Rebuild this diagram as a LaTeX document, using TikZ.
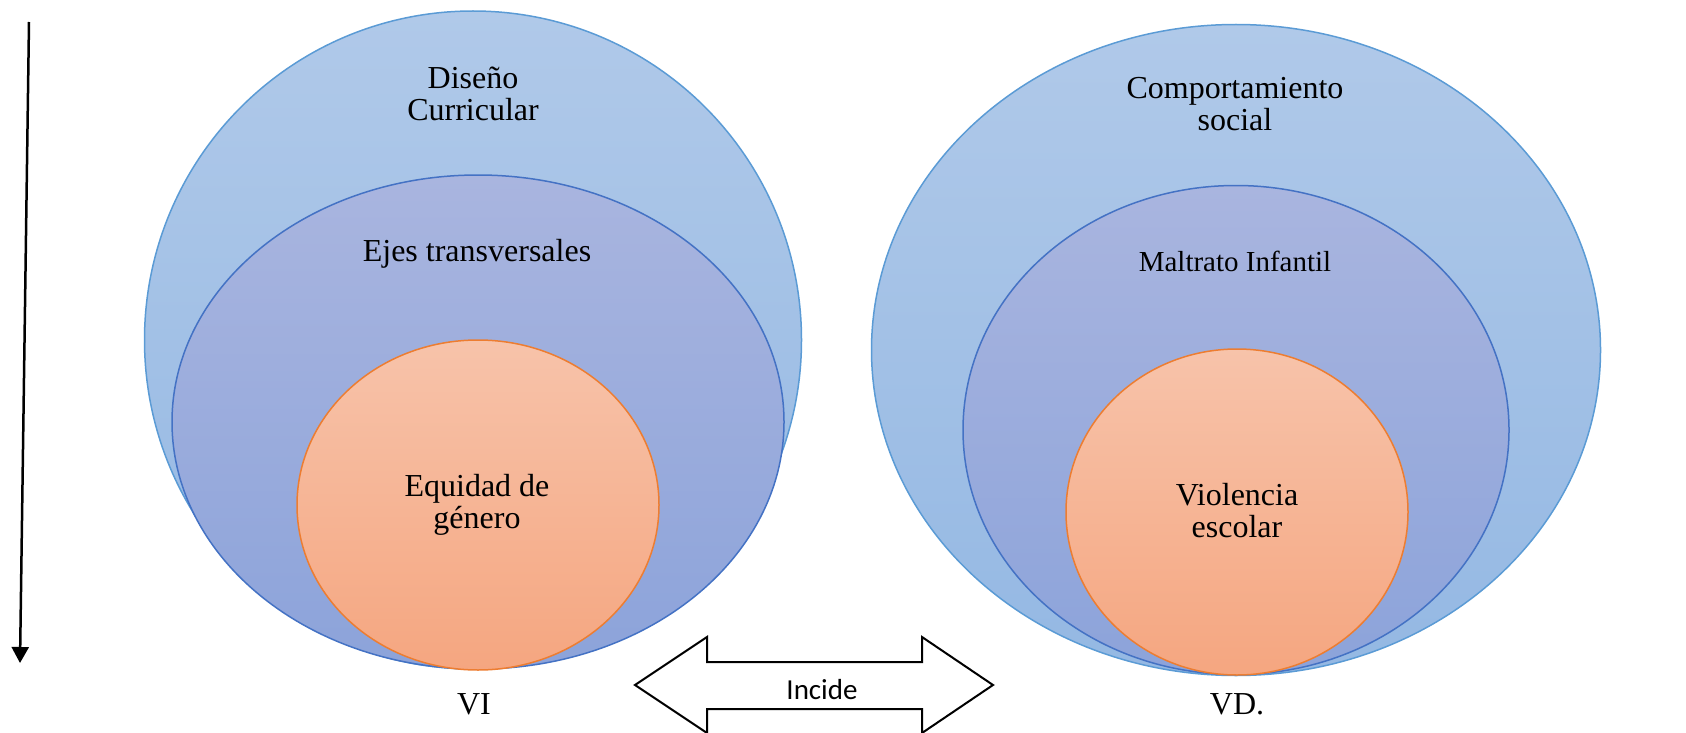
\documentclass[tikz,border=0pt]{standalone}
\usepackage{fontspec}
\setmainfont{Liberation Serif}
\newfontfamily\incidefont{Carlito}
\usetikzlibrary{shapes.geometric,arrows.meta}
\definecolor{outertop}{RGB}{176,201,233}
\definecolor{outerbot}{RGB}{148,184,227}
\definecolor{outerline}{RGB}{91,155,213}
\definecolor{midtop}{RGB}{169,181,223}
\definecolor{midbot}{RGB}{140,163,218}
\definecolor{midline}{RGB}{68,114,196}
\definecolor{innertop}{RGB}{247,195,170}
\definecolor{innerbot}{RGB}{245,166,128}
\definecolor{innerline}{RGB}{237,125,49}
\begin{document}
\begin{tikzpicture}[x=1pt,y=-1pt,
  outer/.style={ellipse, inner sep=0pt, draw=outerline, line width=1.5pt, top color=outertop, bottom color=outerbot},
  middle/.style={ellipse, inner sep=0pt, draw=midline, line width=1.5pt, top color=midtop, bottom color=midbot},
  inner/.style={ellipse, inner sep=0pt, draw=innerline, line width=1.5pt, top color=innertop, bottom color=innerbot},
  txt/.style={align=center, inner sep=0pt, font=\fontsize{32}{32}\selectfont}]
\useasboundingbox (0,0) rectangle (1686,733);
% izquierda
\node [outer, minimum width=657pt, minimum height=658pt] (diseno) at (473,340) {};
\node [middle, minimum width=612pt, minimum height=494pt] (ejes) at (478,422) {};
\node [inner, minimum width=362pt, minimum height=330pt] (equidad) at (478,505) {};
\node [txt] (disenotxt) at (473,94) {Diseño\\Curricular};
\node [txt] (ejestxt) at (477,254) {Ejes transversales};
\node [txt] (equidadtxt) at (477,505) {Equidad de\\género};
\node [txt] (vi) at (474,704) {VI};
% derecha
\node [outer, minimum width=729pt, minimum height=651pt] (comport) at (1236,350) {};
\node [middle, minimum width=546pt, minimum height=489pt] (maltrato) at (1236,430) {};
\node [inner, minimum width=342pt, minimum height=326pt] (violencia) at (1237,512) {};
\node [txt] (comporttxt) at (1235,104) {Comportamiento\\social};
\node [txt, font=\fontsize{29}{29}\selectfont] (maltratotxt) at (1235,261) {Maltrato Infantil};
\node [txt] (violenciatxt) at (1237,511) {Violencia\\escolar};
\node [txt] (vd) at (1237,704) {VD.};
% flecha vertical
\coordinate (arriba) at (29,22);
\coordinate (abajo) at (20,663);
\draw [line width=2.5pt, -{Triangle[width=17pt,length=16pt]}] (arriba) -- (abajo);
% flecha doble
\draw [line width=2pt, line join=miter, fill=white] (635,685) -- (707,637) -- (707,662) -- (922,662) -- (922,637)
  -- (993,685) -- (922,733) -- (922,709) -- (707,709) -- (707,733) -- cycle;
\node [inner sep=0pt, font=\incidefont\fontsize{29}{29}\selectfont] (incide) at (822,690) {Incide};
\end{tikzpicture}
\end{document}
